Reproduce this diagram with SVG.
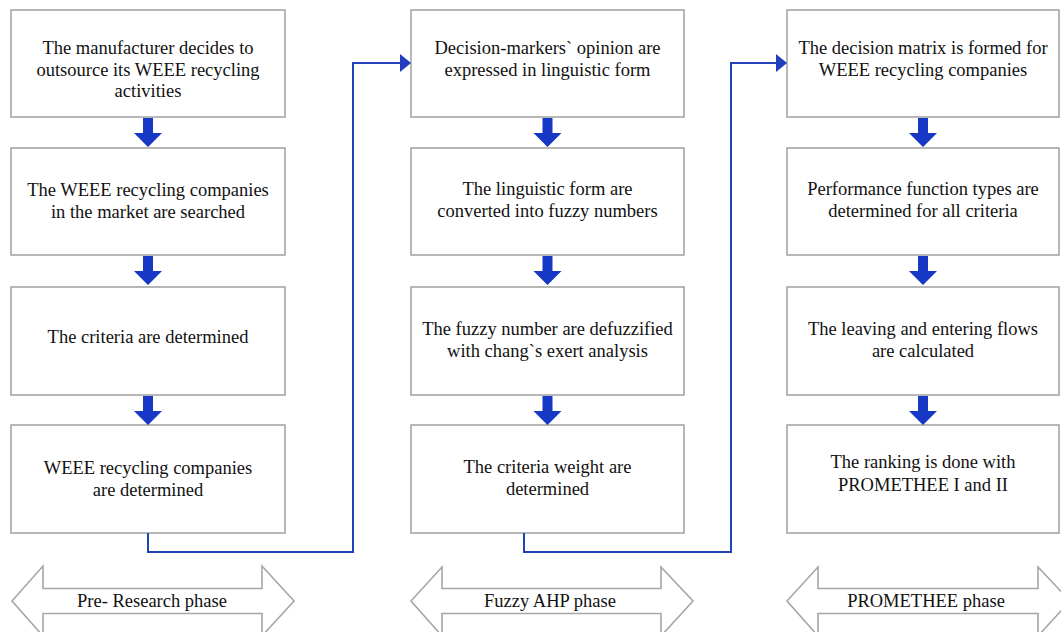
<svg xmlns="http://www.w3.org/2000/svg" width="1061" height="632" viewBox="0 0 1061 632">
<style>
.box{fill:#fff;stroke:#a6a6a6;stroke-width:1.6}
.t{font-family:"Liberation Serif","Times New Roman",serif;font-size:18.5px;fill:#111;text-anchor:middle}
.conn{fill:none;stroke:#2442b8;stroke-width:2}
.blk{fill:#1638c4}
.ph{fill:#fff;stroke:#a6a6a6;stroke-width:1.6}
</style>
<defs>
<path id="down" d="M-5,0 H5 V15 H14 L0,29 L-14,15 H-5 Z"/>
<marker id="ah" markerWidth="11" markerHeight="18" refX="10" refY="9" orient="auto" markerUnits="userSpaceOnUse">
<path d="M0,0 L11,9 L0,18 Z" fill="#1f3fc0"/>
</marker>
</defs>
<rect width="1061" height="632" fill="#fff"/>

<g id="n1"><rect class="box" x="11" y="10" width="274" height="107"/>
<text class="t" x="148" y="54">The manufacturer decides to</text>
<text class="t" x="148" y="76">outsource its WEEE recycling</text>
<text class="t" x="148" y="97">activities</text></g>
<g id="n2"><rect class="box" x="11" y="148" width="274" height="107"/>
<text class="t" x="148" y="196">The WEEE recycling companies</text>
<text class="t" x="148" y="218">in the market are searched</text></g>
<g id="n3"><rect class="box" x="11" y="287" width="274" height="108"/>
<text class="t" x="148" y="343">The criteria are determined</text></g>
<g id="n4"><rect class="box" x="11" y="425" width="274" height="108"/>
<text class="t" x="148" y="474">WEEE recycling companies</text>
<text class="t" x="148" y="496">are determined</text></g>

<g id="n5"><rect class="box" x="411" y="10" width="273" height="107"/>
<text class="t" x="547.5" y="54">Decision-markers` opinion are</text>
<text class="t" x="547.5" y="76">expressed in linguistic form</text></g>
<g id="n6"><rect class="box" x="411" y="148" width="273" height="107"/>
<text class="t" x="547.5" y="195">The linguistic form are</text>
<text class="t" x="547.5" y="217">converted into fuzzy numbers</text></g>
<g id="n7"><rect class="box" x="411" y="287" width="273" height="108"/>
<text class="t" x="547.5" y="335">The fuzzy number are defuzzified</text>
<text class="t" x="547.5" y="357">with chang`s exert analysis</text></g>
<g id="n8"><rect class="box" x="411" y="425" width="273" height="108"/>
<text class="t" x="547.5" y="473">The criteria weight are</text>
<text class="t" x="547.5" y="495">determined</text></g>

<g id="n9"><rect class="box" x="787" y="10" width="272" height="107"/>
<text class="t" x="923" y="54">The decision matrix is formed for</text>
<text class="t" x="923" y="76">WEEE recycling companies</text></g>
<g id="n10"><rect class="box" x="787" y="148" width="272" height="107"/>
<text class="t" x="923" y="195">Performance function types are</text>
<text class="t" x="923" y="217">determined for all criteria</text></g>
<g id="n11"><rect class="box" x="787" y="287" width="272" height="108"/>
<text class="t" x="923" y="335">The leaving and entering flows</text>
<text class="t" x="923" y="357">are calculated</text></g>
<g id="n12"><rect class="box" x="787" y="425" width="272" height="108"/>
<text class="t" x="923" y="468">The ranking is done with</text>
<text class="t" x="923" y="491">PROMETHEE I and II</text></g>

<g id="connectors">
<use href="#down" class="blk" x="148" y="118"/>
<use href="#down" class="blk" x="148" y="256"/>
<use href="#down" class="blk" x="148" y="396"/>
<use href="#down" class="blk" x="547.5" y="118"/>
<use href="#down" class="blk" x="547.5" y="256"/>
<use href="#down" class="blk" x="547.5" y="396"/>
<use href="#down" class="blk" x="923" y="118"/>
<use href="#down" class="blk" x="923" y="256"/>
<use href="#down" class="blk" x="923" y="396"/>
<path class="conn" d="M148,533 V552 H353 V63 H410" marker-end="url(#ah)"/>
<path class="conn" d="M524,533 V552 H731 V63 H786" marker-end="url(#ah)"/>
</g>

<g id="phase1">
<path class="ph" d="M12,601 L43,566 V588.5 H262 V566 L294,601 L262,636 V613.5 H43 V636 Z"/>
<text class="t" x="152" y="607">Pre- Research phase</text></g>
<g id="phase2">
<path class="ph" d="M411,601 L442,567 V588.5 H661 V567 L693,601 L661,636 V613.5 H442 V636 Z"/>
<text class="t" x="550" y="607">Fuzzy AHP phase</text></g>
<g id="phase3">
<path class="ph" d="M787,601 L818,567 V588.5 H1038 V567 L1070,601 L1038,636 V613.5 H818 V636 Z"/>
<text class="t" x="926" y="607">PROMETHEE phase</text></g>
</svg>
